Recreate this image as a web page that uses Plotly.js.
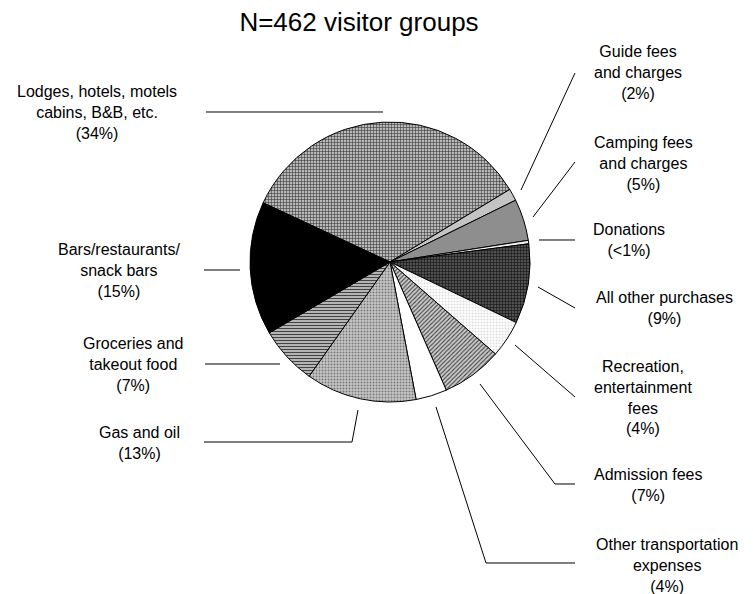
<!DOCTYPE html>
<html>
<head>
<meta charset="utf-8">
<script src="https://cdn.plot.ly/plotly-3.0.1.min.js"></script>
<style>html,body{margin:0;padding:0;background:#fff;}#chart{width:753px;height:594px;}</style>
</head>
<body>
<div id="chart"></div>
<script>
// Data (clockwise from Lodges)
var categories = ["Lodges, hotels, motels cabins, B&B, etc.", "Guide fees and charges", "Camping fees and charges", "Donations", "All other purchases", "Recreation, entertainment fees", "Admission fees", "Other transportation expenses", "Gas and oil", "Groceries and takeout food", "Bars/restaurants/ snack bars"];
var shares = [34.4, 1.4, 4.8, 0.4, 9.2, 4.3, 7.0, 3.6, 12.8, 6.75, 15.4];
var labelTexts = [
  "Lodges, hotels, motels<br>cabins, B&B, etc.<br>(34%)",
  "Guide fees<br>and charges<br>(2%)",
  "Camping fees<br>and charges<br>(5%)",
  "Donations<br>(<1%)",
  "All other purchases<br>(9%)",
  "Recreation,<br>entertainment<br>fees<br>(4%)",
  "Admission fees<br>(7%)",
  "Other transportation<br>expenses<br>(4%)",
  "Gas and oil<br>(13%)",
  "Groceries and<br>takeout food<br>(7%)",
  "Bars/restaurants/<br>snack bars<br>(15%)"
];
var titleText = "N=462 visitor groups";

// styles
var W = 753, H = 594;
var fills = ["#9c9c9c", "#c4c4c4", "#8e8e8e", "#f0f0f0", "#3c3c3c", "#f8f8f8", "#9a9a9a", "#ffffff", "#b4b4b4", "#8a8a8a", "#000000"];
var patShapes = ["+", "", "", "", "+", ".", "/", "", ".", "-", ""];
var patFg = ["#3a3a3a", "#000000", "#000000", "#000000", "#111111", "#dddddd", "#404040", "#000000", "#777777", "#444444", "#000000"];
var patBg = ["#b8b8b8", "#c4c4c4", "#8e8e8e", "#f0f0f0", "#505050", "#ffffff", "#cccccc", "#ffffff", "#c8c8c8", "#b4b4b4", "#000000"];

// label placement (pixels) and leader lines (pixels)
var labelPos = [[97,113],[638,73],[643,163],[629,240],[664,308],[643,397],[648,485],[667,565],[139,443],[133,364],[119,270]];
var leaders = [
  [[206,112],[383,112]],
  [[521,190],[575,73]],
  [[533,217],[575,162]],
  [[539,240],[575,240]],
  [[538,287],[575,308]],
  [[515,345],[575,397]],
  [[480,384],[555,484],[575,484]],
  [[436,407],[486,563],[575,563]],
  [[358,410],[352,442],[204,442]],
  [[205,364],[280,364]],
  [[204,270],[240,270]]
];

function px(x){return x/W;}
function py(y){return 1 - y/H;}

var cx = 390, cy = 262, R = 140;

var trace = {
  type: "pie",
  labels: categories,
  values: shares,
  sort: false,
  direction: "clockwise",
  rotation: 295,
  textinfo: "none",
  hoverinfo: "label+percent",
  marker: {
    colors: fills,
    line: {color: "#000000", width: 1},
    pattern: {shape: patShapes, fgcolor: patFg, bgcolor: patBg, size: 3, solidity: 0.35, fillmode: "replace"}
  },
  domain: {x: [px(cx - R), px(cx + R)], y: [py(cy + R), py(cy - R)]},
  showlegend: false
};

var fontFam = "Liberation Sans, Arial, sans-serif";
var annotations = labelTexts.map(function(t, i){
  return {text: t, xref: "paper", yref: "paper", x: px(labelPos[i][0]), y: py(labelPos[i][1]),
    xanchor: "center", yanchor: "middle", align: "center", showarrow: false,
    font: {family: fontFam, size: 16, color: "#000000"}};
});

var shapes = leaders.map(function(pts){
  var d = pts.map(function(p, j){return (j ? "L" : "M") + px(p[0]).toFixed(5) + "," + py(p[1]).toFixed(5);}).join(" ");
  return {type: "path", xref: "paper", yref: "paper", path: d, line: {color: "#000000", width: 1}};
});

var layout = {
  width: W, height: H,
  margin: {l: 0, r: 0, t: 0, b: 0},
  paper_bgcolor: "#ffffff",
  plot_bgcolor: "#ffffff",
  title: {text: titleText, x: 359 / W, xanchor: "center", y: 1 - 22 / H, yanchor: "middle", yref: "container",
    font: {family: fontFam, size: 26, color: "#000000"}},
  annotations: annotations,
  shapes: shapes,
  showlegend: false
};

Plotly.newPlot("chart", [trace], layout, {displayModeBar: false, staticPlot: true});
</script>
</body>
</html>
